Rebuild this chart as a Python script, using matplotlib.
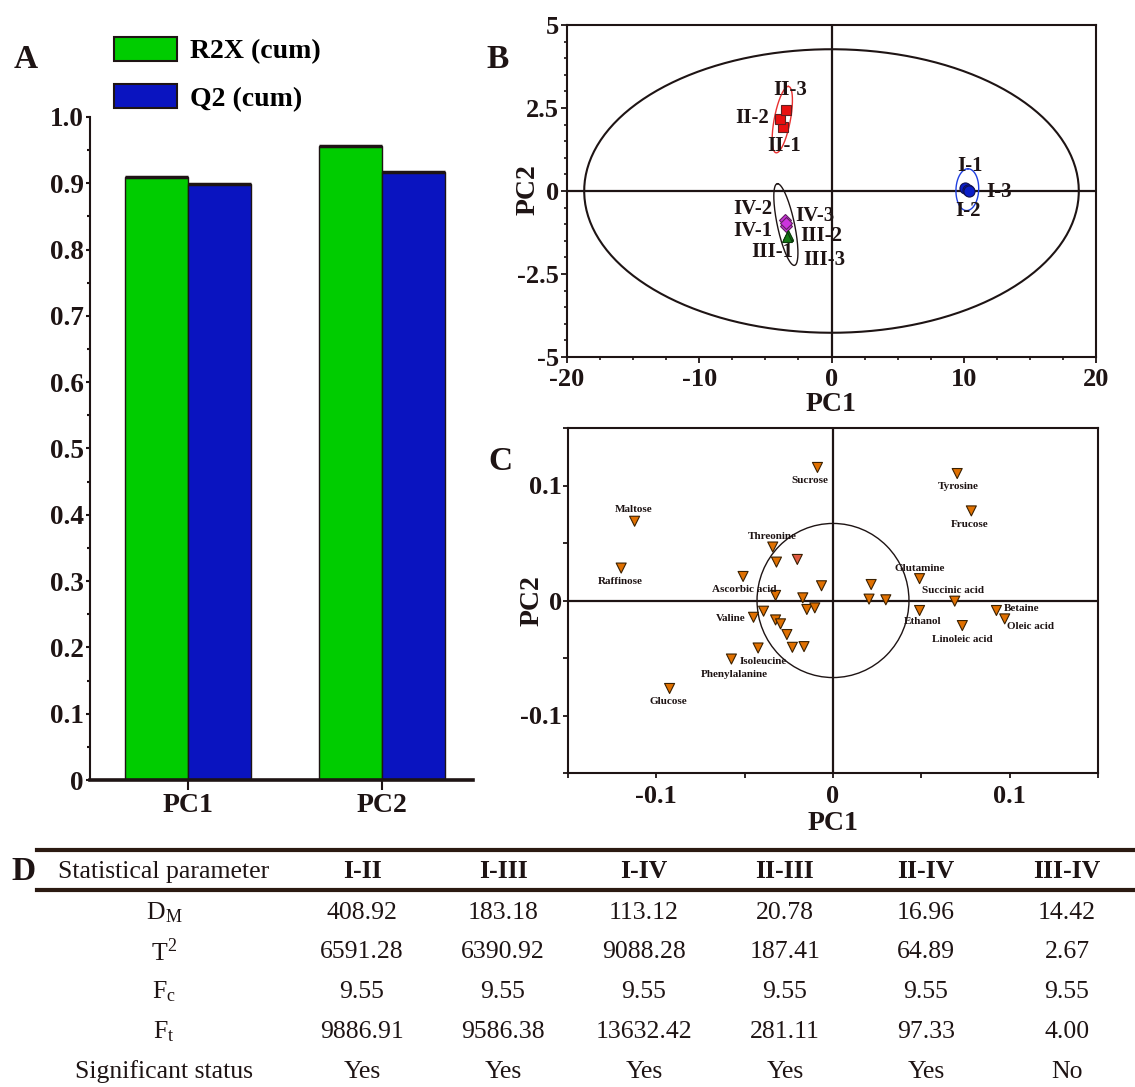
import numpy as np
import matplotlib
matplotlib.use('Agg')
import matplotlib.pyplot as plt
from matplotlib.lines import Line2D
from matplotlib.patches import Ellipse, Patch
from matplotlib.ticker import MultipleLocator, FixedLocator, FuncFormatter

plt.rcParams['font.family'] = ['Liberation Serif', 'DejaVu Serif']
plt.rcParams['axes.unicode_minus'] = False
plt.rcParams['mathtext.fontset'] = 'stix'

# ---- A: cumulative model statistics
comp_names = ['PC1', 'PC2']
r2x_cum = [0.909, 0.956]
q2_cum = [0.899, 0.917]

# ---- B: score plot, three replicates per group
g1_x = [10.08, 10.30, 10.40]
g1_y = [0.10, 0.02, 0.00]
g2_x = [-3.69, -3.86, -3.43]
g2_y = [1.94, 2.17, 2.45]
g3_x = [-3.31, -3.29, -3.33]
g3_y = [-1.36, -1.33, -1.38]
g4_x = [-3.43, -3.51, -3.47]
g4_y = [-1.04, -0.87, -0.95]
g1_names = ['I-1', 'I-2', 'I-3']
g2_names = ['II-1', 'II-2', 'II-3']
g3_names = ['III-1', 'III-2', 'III-3']
g4_names = ['IV-1', 'IV-2', 'IV-3']
t2_axes = [18.7, 4.27]   # Hotelling T2 ellipse semi-axes

# ---- C: loading plot
load_names = ['Sucrose', 'Tyrosine', 'Frucose', 'Maltose', 'Raffinose', 'Threonine',
              'Ascorbic acid', 'Valine', 'Isoleucine', 'Phenylalanine', 'Glucose',
              'Glutamine', 'Succinic acid', 'Ethanol', 'Linoleic acid', 'Betaine',
              'Oleic acid',
              '', '', '', '', '', '', '', '', '', '', '', '', '', '', '']
load_x = [-0.0088, 0.0703, 0.0783, -0.1123, -0.1199, -0.0341,
          -0.0509, -0.0450, -0.0424, -0.0575, -0.0925,
          0.0490, 0.0689, 0.0490, 0.0732, 0.0925,
          0.0972,
          -0.0320, -0.0202, -0.0065, -0.0325, -0.0171, -0.0148, -0.0103, -0.0393,
          -0.0325, -0.0297, -0.0261, -0.0230, -0.0164, 0.0216, 0.0204, 0.0299]
load_y = [0.1157, 0.1104, 0.0779, 0.0689, 0.0282, 0.0465,
          0.0209, -0.0146, -0.0413, -0.0509, -0.0765,
          0.0190, -0.0006, -0.0087, -0.0218, -0.0087,
          -0.0160,
          0.0334, 0.0357, 0.0128, 0.0044, 0.0023, -0.0078, -0.0064, -0.0093,
          -0.0169, -0.0203, -0.0296, -0.0407, -0.0401, 0.0139, 0.0012, 0.0006]

# ---- D: table
pair_names = ['I-II', 'I-III', 'I-IV', 'II-III', 'II-IV', 'III-IV']
d_m = [408.92, 183.18, 113.12, 20.78, 16.96, 14.42]
t_sq = [6591.28, 6390.92, 9088.28, 187.41, 64.89, 2.67]
f_c = [9.55, 9.55, 9.55, 9.55, 9.55, 9.55]
f_t = [9886.91, 9586.38, 13632.42, 281.11, 97.33, 4.00]
significant = ['Yes', 'Yes', 'Yes', 'Yes', 'Yes', 'No']

ink = '#1e1414'
W, H = 1135, 1087


def box(l, t, r, b):
    return [l / W, 1 - b / H, (r - l) / W, (b - t) / H]


def fx(x):
    return x / W


def fy(y):
    return 1 - y / H


def tilted_ellipse(ax, c, u, v, **kw):
    t = np.linspace(0, 2 * np.pi, 200)
    ax.plot(c[0] + u[0] * np.cos(t) + v[0] * np.sin(t),
            c[1] + u[1] * np.cos(t) + v[1] * np.sin(t), **kw)


fig = plt.figure(figsize=(W / 100, H / 100), dpi=100)

# ================= A =================
green = '#00cc00'
blue = '#0a14c0'
axA = fig.add_axes(box(90, 117, 473, 780))
pos = np.arange(len(comp_names))
bw = 0.325
axA.bar(pos - bw / 2, r2x_cum, bw, color=green, edgecolor=ink, lw=1)
axA.bar(pos + bw / 2, q2_cum, bw, color=blue, edgecolor=ink, lw=1)
axA.hlines(r2x_cum, pos - bw, pos, color=ink, lw=2.5)
axA.hlines(q2_cum, pos, pos + bw, color=ink, lw=2.5)
axA.set_xlim(-0.505, 1.47)
axA.set_ylim(0, 1.0)
for s in ['top', 'right']:
    axA.spines[s].set_visible(False)
axA.spines['left'].set_linewidth(1.5)
axA.spines['bottom'].set_linewidth(2.6)
axA.spines['left'].set_color(ink)
axA.spines['bottom'].set_color(ink)
axA.yaxis.set_major_locator(MultipleLocator(0.1))
axA.yaxis.set_minor_locator(MultipleLocator(0.05))
axA.yaxis.set_major_formatter(FuncFormatter(lambda v, p: '0' if abs(v) < 1e-9 else '%.1f' % v))
axA.tick_params(axis='y', which='major', direction='out', length=3, width=1.5,
                pad=1.5, labelsize=19.5, colors=ink)
axA.tick_params(axis='y', which='minor', direction='out', length=2, width=1.5, colors=ink)
axA.set_xticks(pos)
axA.set_xticklabels(comp_names)
axA.tick_params(axis='x', direction='out', length=7, width=1.5, pad=2, labelsize=20, colors=ink)
for lab in axA.get_xticklabels() + axA.get_yticklabels():
    lab.set_fontweight('bold')

fig.legend(handles=[Patch(facecolor=green, edgecolor=ink, lw=1.5),
                    Patch(facecolor=blue, edgecolor=ink, lw=1.5)],
           labels=['R2X (cum)', 'Q2 (cum)'], loc='upper left',
           bbox_to_anchor=(fx(114), fy(37)), frameon=False, borderpad=0,
           borderaxespad=0, handlelength=2.27, handleheight=0.94,
           handletextpad=0.45, labelspacing=0.72,
           prop=dict(weight='bold', size=20))
fig.text(fx(26), fy(60), 'A', ha='center', va='center', fontsize=24,
         fontweight='bold', color=ink)

# ================= B =================
axB = fig.add_axes(box(567, 25, 1096, 357))
axB.set_xlim(-20, 20)
axB.set_ylim(-5, 5)
axB.axhline(0, color=ink, lw=1.6)
axB.axvline(0, color=ink, lw=1.6)
tt = np.linspace(0, 2 * np.pi, 300)
axB.plot(t2_axes[0] * np.cos(tt), t2_axes[1] * np.sin(tt), color=ink, lw=1.5)
tilted_ellipse(axB, (10.27, 0.04), (0.05, 0.63), (0.86, 0), color='#2040e0', lw=1)
tilted_ellipse(axB, (-3.72, 2.15), (0.45, 1.0), (0.62, 0), color='#e83030', lw=1)
tilted_ellipse(axB, (-3.45, -1.01), (-0.63, 1.23), (0.66, 0), color=ink, lw=1)

axB.plot(g2_x, g2_y, 's', ms=7, mfc='#e81010', mec='#602020', mew=0.8)
axB.plot(g1_x, g1_y, 'o', ms=8, mfc='#0a1ec8', mec='#101050', mew=0.8)
axB.plot(g4_x, g4_y, 'D', ms=6, mfc='#cc33dd', mec='#602060', mew=0.8)
axB.plot(g3_x, g3_y, '^', ms=7, mfc='#147814', mec='#0a3a0a', mew=0.8)

b_label_pos = {
    'I-1': (10.45, 0.75), 'I-2': (10.33, -0.61), 'I-3': (12.67, -0.04),
    'II-1': (-3.56, 1.35), 'II-2': (-6.0, 2.2), 'II-3': (-3.1, 3.05),
    'III-1': (-4.45, -1.84), 'III-2': (-0.78, -1.37), 'III-3': (-0.53, -2.09),
    'IV-1': (-5.96, -1.21), 'IV-2': (-5.96, -0.54), 'IV-3': (-1.29, -0.74),
}
for name in g1_names + g2_names + g3_names + g4_names:
    lx, ly = b_label_pos[name]
    axB.text(lx, ly, name, ha='center', va='center', fontsize=15,
             fontweight='bold', color=ink)

axB.xaxis.set_major_locator(MultipleLocator(10))
axB.xaxis.set_minor_locator(MultipleLocator(2.5))
axB.yaxis.set_major_locator(MultipleLocator(2.5))
axB.yaxis.set_minor_locator(MultipleLocator(0.5))
axB.xaxis.set_major_formatter(FuncFormatter(lambda v, p: '%g' % v))
axB.yaxis.set_major_formatter(FuncFormatter(lambda v, p: '%g' % v))
axB.tick_params(which='major', direction='out', length=4, width=1.3,
                labelsize=19, colors=ink)
axB.tick_params(axis='x', which='major', pad=4)
axB.tick_params(axis='y', which='major', pad=1.5)
axB.tick_params(which='minor', direction='out', length=2.5, width=1.2, colors=ink)
for lab in axB.get_xticklabels() + axB.get_yticklabels():
    lab.set_fontweight('bold')
for s in axB.spines.values():
    s.set_linewidth(1.5)
    s.set_color(ink)
axB.text(0.5, -0.143, 'PC1', transform=axB.transAxes, ha='center', va='center',
         fontsize=20, fontweight='bold', color=ink)
axB.text(-0.073, 0.503, 'PC2', transform=axB.transAxes, ha='center', va='center',
         rotation=90, fontsize=20, fontweight='bold', color=ink)
fig.text(fx(498), fy(59), 'B', ha='center', va='center', fontsize=24,
         fontweight='bold', color=ink)

# ================= C =================
axC = fig.add_axes(box(568, 428, 1098, 773))
axC.set_xlim(-0.15, 0.15)
axC.set_ylim(-0.15, 0.15)
axC.axhline(0, color=ink, lw=1.6)
axC.axvline(0, color=ink, lw=1.6)
axC.add_patch(Ellipse((0, 0), 0.086, 0.134, fill=False, ec=ink, lw=1))
face = ['#e05a40' if i == 18 else '#e07000' for i in range(len(load_x))]
axC.scatter(load_x, load_y, marker='v', s=52, c=face, edgecolors='#3a2000',
            linewidths=0.8, zorder=3)

c_label_pos = {
    'Sucrose': (-0.0131, 0.1046), 'Tyrosine': (0.0708, 0.0994),
    'Frucose': (0.0772, 0.0663), 'Maltose': (-0.1128, 0.0791),
    'Raffinose': (-0.1206, 0.0166), 'Threonine': (-0.0344, 0.0558),
    'Ascorbic acid': (-0.0504, 0.0093), 'Valine': (-0.0580, -0.0155),
    'Isoleucine': (-0.0396, -0.0530), 'Phenylalanine': (-0.0561, -0.0645),
    'Glucose': (-0.0930, -0.0878), 'Glutamine': (0.0490, 0.0282),
    'Succinic acid': (0.0680, 0.0087), 'Ethanol': (0.0507, -0.0180),
    'Linoleic acid': (0.0732, -0.0337), 'Betaine': (0.1070, -0.0073),
    'Oleic acid': (0.1117, -0.0230),
}
for name in load_names:
    if name:
        lx, ly = c_label_pos[name]
        axC.text(lx, ly, name, ha='center', va='center', fontsize=8,
                 fontweight='bold', color=ink, zorder=4)

axC.xaxis.set_major_locator(FixedLocator([-0.1, 0, 0.1]))
axC.yaxis.set_major_locator(FixedLocator([-0.1, 0, 0.1]))
axC.xaxis.set_minor_locator(MultipleLocator(0.05))
axC.yaxis.set_minor_locator(MultipleLocator(0.05))
axC.xaxis.set_major_formatter(FuncFormatter(lambda v, p: '%g' % round(v, 2)))
axC.yaxis.set_major_formatter(FuncFormatter(lambda v, p: '%g' % round(v, 2)))
axC.tick_params(which='both', direction='out', length=3.5, width=1.3, colors=ink)
axC.tick_params(axis='x', which='major', pad=5, labelsize=19)
axC.tick_params(axis='y', which='major', pad=1, labelsize=19)
for lab in axC.get_xticklabels() + axC.get_yticklabels():
    lab.set_fontweight('bold')
for s in axC.spines.values():
    s.set_linewidth(1.5)
    s.set_color(ink)
axC.text(0.5, -0.145, 'PC1', transform=axC.transAxes, ha='center', va='center',
         fontsize=20, fontweight='bold', color=ink)
axC.text(-0.068, 0.501, 'PC2', transform=axC.transAxes, ha='center', va='center',
         rotation=90, fontsize=20, fontweight='bold', color=ink)
fig.text(fx(500), fy(461), 'C', ha='center', va='center', fontsize=24,
         fontweight='bold', color=ink)

# ================= D =================
rule = '#2b1a12'
for yy in [850, 890]:
    fig.add_artist(Line2D([fx(37), 1.0], [fy(yy), fy(yy)], color=rule, lw=3))
fig.text(fx(24), fy(872), 'D', ha='center', va='center', fontsize=24,
         fontweight='bold', color=ink)

col_x = [362, 503, 644, 785, 926, 1067]
label_x = 164
fig.text(fx(label_x), fy(872), 'Statistical parameter', ha='center', va='center',
         fontsize=18.5, color=ink)
for cx, name in zip(col_x, pair_names):
    fig.text(fx(cx), fy(872), name, ha='center', va='center', fontsize=18.5,
             fontweight='bold', color=ink)

row_names = [r'D$_\mathregular{M}$', r'T$^\mathregular{2}$', r'F$_\mathregular{c}$',
             r'F$_\mathregular{t}$', 'Significant status']
row_vals = [['%.2f' % v for v in d_m], ['%.2f' % v for v in t_sq],
            ['%.2f' % v for v in f_c], ['%.2f' % v for v in f_t], significant]
row_y = [913, 952, 992, 1032, 1072]
for ry, rname, vals in zip(row_y, row_names, row_vals):
    fig.text(fx(label_x), fy(ry), rname, ha='center', va='center', fontsize=18.5,
             color=ink)
    for cx, v in zip(col_x, vals):
        fig.text(fx(cx), fy(ry), v, ha='center', va='center', fontsize=18.5,
                 color=ink)

fig.savefig('out.png', dpi=100, facecolor='white')
